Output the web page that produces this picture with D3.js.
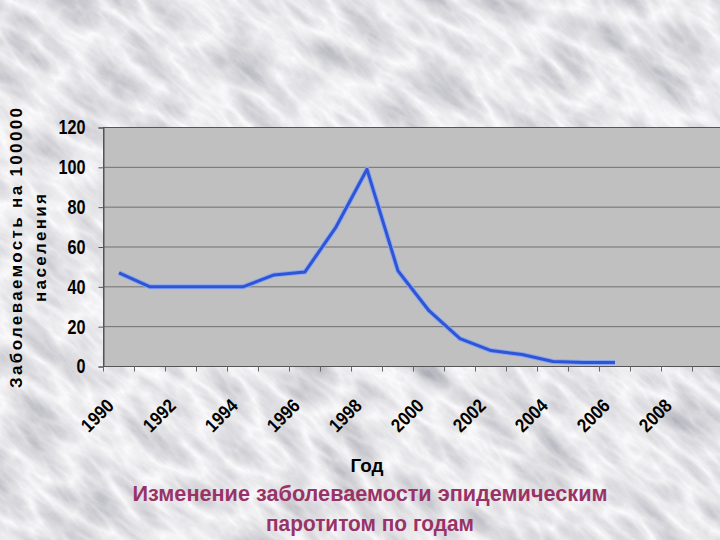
<!DOCTYPE html>
<html>
<head>
<meta charset="utf-8">
<script src="https://cdn.jsdelivr.net/npm/d3@7"></script>
<style>
  body { margin: 0; padding: 0; overflow: hidden; }
  svg { display: block; font-family: "Liberation Sans", Arial, sans-serif; }
</style>
</head>
<body>
<script>
// data
var years = d3.range(1990, 2010);
var dataYears = [1990, 1991, 1992, 1993, 1994, 1995, 1996, 1997, 1998, 1999, 2000, 2001, 2002, 2003, 2004, 2005, 2006];
var rates = [47, 40, 40, 40, 40, 46, 47.5, 70, 99, 48, 28, 14, 8, 6, 2.5, 2, 2];
var yTicks = [0, 20, 40, 60, 80, 100, 120];
var xLabels = [1990, 1992, 1994, 1996, 1998, 2000, 2002, 2004, 2006, 2008];

var width = 720, height = 540;

var svg = d3.select("body").append("svg")
    .attr("width", width)
    .attr("height", height);

// marble-ish background
var defs = svg.append("defs");
var f = defs.append("filter").attr("id", "marble")
    .attr("filterUnits", "userSpaceOnUse")
    .attr("x", -400).attr("y", -400).attr("width", 1520).attr("height", 1340);
f.append("feTurbulence")
    .attr("type", "turbulence")
    .attr("baseFrequency", "0.035 0.012")
    .attr("numOctaves", 5)
    .attr("seed", 11)
    .attr("result", "noise");
f.append("feColorMatrix")
    .attr("in", "noise")
    .attr("type", "matrix")
    .attr("values", "-0.6 0 0 0 0.99  -0.6 0 0 0 0.99  -0.55 0 0 0 1  0 0 0 0 1");

svg.append("rect")
    .attr("width", width).attr("height", height)
    .attr("fill", "#eeeeee");
svg.append("g")
    .attr("transform", "rotate(-50,360,270)")
  .append("rect")
    .attr("x", -400).attr("y", -400)
    .attr("width", 1520).attr("height", 1340)
    .attr("filter", "url(#marble)");

// scales
var x = d3.scaleBand()
    .domain(years)
    .range([103.5, 103.5 + 31 * years.length]);

var y = d3.scaleLinear()
    .domain([0, 120])
    .range([366.5, 127.5]);

// plot area
svg.append("rect")
    .attr("x", x.range()[0])
    .attr("y", y(120))
    .attr("width", x.range()[1] - x.range()[0])
    .attr("height", y(0) - y(120))
    .attr("fill", "#c0c0c0")
    .attr("stroke", "#555")
    .attr("stroke-width", 1);

// gridlines
svg.append("g")
  .selectAll("line")
  .data(yTicks.filter(function(d) { return d > 0 && d < 120; }))
  .enter().append("line")
    .attr("x1", x.range()[0])
    .attr("x2", x.range()[1])
    .attr("y1", function(d) { return y(d); })
    .attr("y2", function(d) { return y(d); })
    .attr("stroke", "#707070")
    .attr("stroke-width", 1);

// y axis
var yAxis = svg.append("g")
    .attr("transform", "translate(" + x.range()[0] + ",0)")
    .call(d3.axisLeft(y).tickValues(yTicks).tickSize(5).tickPadding(13));
yAxis.select(".domain").attr("stroke", "#555");
yAxis.selectAll(".tick line").attr("stroke", "#555");
yAxis.selectAll("text")
    .attr("font-size", 20)
    .attr("font-weight", "bold")
    .attr("fill", "#000")
    .attr("font-family", "Liberation Sans, Arial, sans-serif")
    .attr("textLength", function(d) { return String(d).length * 9; })
    .attr("lengthAdjust", "spacingAndGlyphs");

// x tick marks at category boundaries
svg.append("g")
  .selectAll("line")
  .data(years.concat([2010]))
  .enter().append("line")
    .attr("x1", function(d) { return d === 2010 ? x.range()[1] : x(d); })
    .attr("x2", function(d) { return d === 2010 ? x.range()[1] : x(d); })
    .attr("y1", y(0))
    .attr("y2", y(0) + 5)
    .attr("stroke", "#666");

// x labels
svg.append("g")
  .selectAll("text")
  .data(xLabels)
  .enter().append("text")
    .attr("transform", function(d) {
        return "translate(" + (x(d) + x.bandwidth() / 2 - 4) + ",407) rotate(-45)";
    })
    .attr("text-anchor", "end")
    .attr("font-size", 19)
    .attr("font-weight", "bold")
    .attr("fill", "#000")
    .attr("textLength", 37)
    .attr("lengthAdjust", "spacingAndGlyphs")
    .text(function(d) { return d; });

// line
var line = d3.line()
    .x(function(d, i) { return x(dataYears[i]) + x.bandwidth() / 2; })
    .y(function(d) { return y(d); });

svg.append("path")
    .datum(rates)
    .attr("d", line)
    .attr("fill", "none")
    .attr("stroke", "#8aa8f0")
    .attr("stroke-width", 5)
    .attr("stroke-linejoin", "round");
svg.append("path")
    .datum(rates)
    .attr("d", line)
    .attr("fill", "none")
    .attr("stroke", "#2f55d4")
    .attr("stroke-width", 3)
    .attr("stroke-linejoin", "round");

// y title
var yt = svg.append("text")
    .attr("transform", "translate(0,248) rotate(-90)")
    .attr("text-anchor", "middle")
    .attr("font-size", 17)
    .attr("font-weight", "bold")
    .attr("fill", "#000");
yt.append("tspan").attr("x", 0).attr("y", 22)
    .attr("textLength", 280).attr("lengthAdjust", "spacing")
    .text("Заболеваемость на 100000");
yt.append("tspan").attr("x", 0).attr("y", 46)
    .attr("textLength", 108).attr("lengthAdjust", "spacing")
    .text("населения");

// x title
svg.append("text")
    .attr("x", 367)
    .attr("y", 472)
    .attr("text-anchor", "middle")
    .attr("font-size", 18)
    .attr("font-weight", "bold")
    .attr("fill", "#000")
    .attr("textLength", 33)
    .attr("lengthAdjust", "spacingAndGlyphs")
    .text("Год");

// chart title
var title = svg.append("text")
    .attr("text-anchor", "middle")
    .attr("font-size", 22)
    .attr("font-weight", "bold")
    .attr("fill", "#993366");
title.append("tspan").attr("x", 370).attr("y", 501)
    .attr("textLength", 475).attr("lengthAdjust", "spacingAndGlyphs")
    .text("Изменение заболеваемости эпидемическим");
title.append("tspan").attr("x", 370).attr("y", 531)
    .attr("textLength", 208).attr("lengthAdjust", "spacingAndGlyphs")
    .text("паротитом по годам");
</script>
</body>
</html>
